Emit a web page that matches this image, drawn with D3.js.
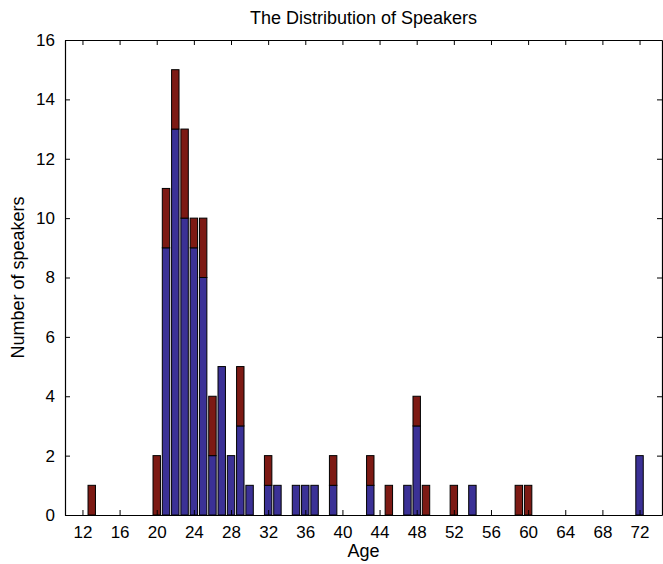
<!DOCTYPE html>
<html>
<head>
<meta charset="utf-8">
<script src="https://cdn.jsdelivr.net/npm/d3@7"></script>
<style>
  body { margin: 0; background: #fff; }
  svg text { font-family: "Liberation Sans", Arial, sans-serif; fill: #000; }
</style>
</head>
<body>
<svg id="chart" width="663" height="564"></svg>
<script>
// ages that have speakers, and counts per group (stacked: blue bottom, red top)
const ages   = [13, 20, 21, 22, 23, 24, 25, 26, 27, 28, 29, 30, 32, 33, 35, 36, 37, 39, 43, 45, 47, 48, 49, 52, 54, 59, 60, 72];
const blueN  = [ 0,  0,  9, 13, 10,  9,  8,  2,  5,  2,  3,  1,  1,  1,  1,  1,  1,  1,  1,  0,  1,  3,  0,  0,  1,  0,  0,  2];
const redN   = [ 1,  2,  2,  2,  3,  1,  2,  2,  0,  0,  2,  0,  1,  0,  0,  0,  0,  1,  1,  1,  0,  1,  1,  1,  0,  1,  1,  0];
const xTicks = d3.range(12, 73, 4);
const yTicks = d3.range(0, 17, 2);

const svg = d3.select("#chart"),
    margin = { top: 40, right: 1, bottom: 49, left: 65 },
    width = +svg.attr("width") - margin.left - margin.right,
    height = +svg.attr("height") - margin.top - margin.bottom;

const chart = svg.append("g")
    .attr("transform", `translate(${margin.left},${margin.top})`);

const x = d3.scaleLinear().domain([10.12, 74.42]).range([0, width]);
const y = d3.scaleLinear().domain([0, 16]).range([height, 0]);

const colors = ["#3b3196", "#7d1a14"];
const rows = ages.map((a, i) => ({ age: a, blue: blueN[i], red: redN[i] }));
const stacked = d3.stack().keys(["blue", "red"])(rows);

const barW = x(10.8) - x(10);

chart.selectAll(".layer")
    .data(stacked)
    .join("g")
    .attr("class", "layer")
    .attr("fill", (d, i) => colors[i])
    .selectAll("rect")
    .data(d => d.filter(p => p[1] > p[0]))
    .join("rect")
    .attr("x", d => x(d.data.age) - barW / 2)
    .attr("width", barW)
    .attr("y", d => y(d[1]))
    .attr("height", d => y(d[0]) - y(d[1]))
    .attr("stroke", "#000")
    .attr("stroke-width", 1);

// axes (ticks pointing inward, box on)
const tickLen = 5;
chart.append("g")
    .attr("transform", `translate(0,${height})`)
    .call(d3.axisBottom(x).tickValues(xTicks).tickSizeInner(-tickLen).tickSizeOuter(0).tickPadding(11))
    .call(g => g.selectAll("text").style("font-size", "17px"));

chart.append("g")
    .call(d3.axisTop(x).tickValues(xTicks).tickSizeInner(-tickLen).tickSizeOuter(0).tickFormat(""));

chart.append("g")
    .call(d3.axisLeft(y).tickValues(yTicks).tickSizeInner(-tickLen).tickSizeOuter(0).tickPadding(10))
    .call(g => g.selectAll("text").style("font-size", "17px"));

chart.append("g")
    .attr("transform", `translate(${width},0)`)
    .call(d3.axisRight(y).tickValues(yTicks).tickSizeInner(-tickLen).tickSizeOuter(0).tickFormat(""));

chart.selectAll(".domain").attr("stroke", "#000").attr("stroke-width", 1.2);
chart.selectAll(".tick line").attr("stroke", "#000");

// labels
svg.append("text")
    .attr("x", margin.left + width / 2)
    .attr("y", 24)
    .attr("text-anchor", "middle")
    .style("font-size", "18px")
    .text("The Distribution of Speakers");

svg.append("text")
    .attr("x", margin.left + width / 2)
    .attr("y", 557)
    .attr("text-anchor", "middle")
    .style("font-size", "18px")
    .text("Age");

svg.append("text")
    .attr("transform", `translate(24,${margin.top + height / 2}) rotate(-90)`)
    .attr("text-anchor", "middle")
    .style("font-size", "18px")
    .text("Number of speakers");
</script>
</body>
</html>
